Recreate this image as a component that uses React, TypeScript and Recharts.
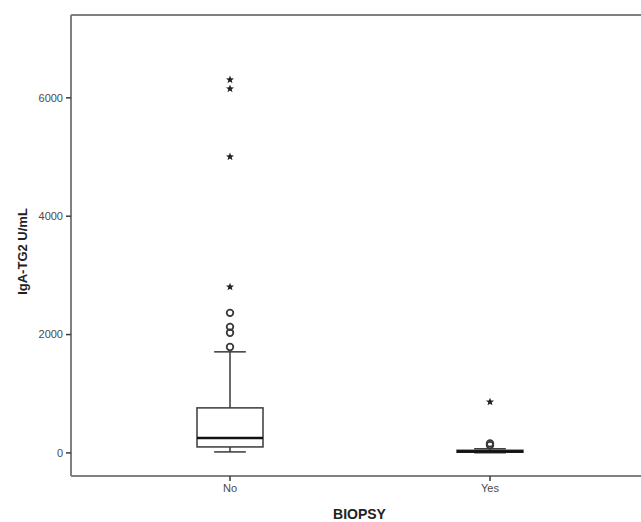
import React from 'react';
import { ComposedChart, Bar, Scatter, XAxis, YAxis, ReferenceLine } from 'recharts';

// box summary per biopsy group
const categories = ['No', 'Yes'];
const whiskerLow = [17, 3];
const quartile1 = [101, 12];
const medians = [254, 25];
const quartile3 = [761, 45];
const whiskerHigh = [1708, 70];

// outliers (circles) and extremes (stars)
const circleCats = ['No', 'No', 'No', 'No', 'Yes', 'Yes'];
const circleValues = [2367, 2130, 2030, 1790, 130, 160];
const starCats = ['No', 'No', 'No', 'No', 'Yes'];
const starValues = [6306, 6154, 5004, 2806, 862];

const yTicks = [0, 2000, 4000, 6000];
const yDomain = [-390, 7400];

const boxData = categories.map((cat, i) => ({
  cat,
  range: [whiskerLow[i], whiskerHigh[i]],
  low: whiskerLow[i],
  q1: quartile1[i],
  med: medians[i],
  q3: quartile3[i],
  high: whiskerHigh[i],
}));
const circleData = circleCats.map((cat, i) => ({ cat, v: circleValues[i] }));
const starData = starCats.map((cat, i) => ({ cat, v: starValues[i] }));

const AXIS = '#808080';
const LINE = '#3a3a3a';

const BoxShape = (props: any) => {
  const { x, y, width, height, payload } = props;
  const span = payload.high - payload.low;
  const k = span > 0 ? height / span : 0;
  const py = (v: number) => y + (payload.high - v) * k;
  const cx = x + width / 2;
  const capHalf = width * 0.24;
  return (
    <g>
      <line x1={cx} x2={cx} y1={py(payload.high)} y2={py(payload.q3)} stroke={LINE} strokeWidth={1.5} />
      <line x1={cx} x2={cx} y1={py(payload.q1)} y2={py(payload.low)} stroke={LINE} strokeWidth={1.5} />
      <line x1={cx - capHalf} x2={cx + capHalf} y1={py(payload.high)} y2={py(payload.high)} stroke={LINE} strokeWidth={1.5} />
      <line x1={cx - capHalf} x2={cx + capHalf} y1={py(payload.low)} y2={py(payload.low)} stroke={LINE} strokeWidth={1.5} />
      <rect x={x} y={py(payload.q3)} width={width} height={py(payload.q1) - py(payload.q3)} fill="#fff" stroke={LINE} strokeWidth={1.5} />
      <line x1={x} x2={x + width} y1={py(payload.med)} y2={py(payload.med)} stroke="#111" strokeWidth={2.5} />
    </g>
  );
};

const CircleShape = (props: any) => {
  const { cx, cy } = props;
  return <circle cx={cx} cy={cy} r={3.3} fill="none" stroke={LINE} strokeWidth={1.8} />;
};

const StarShape = (props: any) => {
  const { cx, cy } = props;
  const pts: string[] = [];
  for (let i = 0; i < 10; i++) {
    const r = i % 2 === 0 ? 4.2 : 1.8;
    const a = -Math.PI / 2 + (i * Math.PI) / 5;
    pts.push(`${cx + r * Math.cos(a)},${cy + r * Math.sin(a)}`);
  }
  return <polygon points={pts.join(' ')} fill="#222" />;
};

const YTitle = (props: any) => {
  const { viewBox } = props;
  const x = viewBox.x + 22;
  const y = viewBox.y + viewBox.height / 2 + 6;
  return (
    <text x={x} y={y} transform={`rotate(-90 ${x} ${y})`} textAnchor="middle" dominantBaseline="central"
      fontFamily="Liberation Sans, Arial, sans-serif" fontWeight="bold" fontSize={13} fill="#222">
      IgA-TG2 U/mL
    </text>
  );
};

const XTitle = (props: any) => {
  const { viewBox } = props;
  return (
    <text x={viewBox.x + viewBox.width / 2} y={viewBox.y + 43} textAnchor="middle"
      fontFamily="Liberation Sans, Arial, sans-serif" fontWeight="bold" fontSize={14} fill="#222">
      BIOPSY
    </text>
  );
};

export default function App() {
  const tickStyle = { fontSize: 11, fill: '#4a4a4a', fontFamily: 'Liberation Sans, Arial, sans-serif' };
  return (
    <div style={{ position: 'absolute', left: 0, top: 0, width: 641, height: 522, overflow: 'hidden', background: '#fff' }}>
      <ComposedChart width={660} height={522} data={boxData} margin={{ top: 15, right: 12, bottom: 16, left: 0 }}>
        <XAxis
          dataKey="cat"
          type="category"
          allowDuplicatedCategory={false}
          padding={{ left: 29, right: 28 }}
          height={30}
          tickSize={5}
          tickMargin={3}
          stroke={AXIS}
          strokeWidth={2}
          tick={tickStyle}
          tickLine={{ stroke: LINE, strokeWidth: 1.5 }}
          label={<XTitle />}
        />
        <YAxis
          type="number"
          domain={yDomain}
          ticks={yTicks}
          width={71}
          tickSize={5}
          tickMargin={3}
          stroke={AXIS}
          strokeWidth={2}
          tick={tickStyle}
          tickLine={{ stroke: LINE, strokeWidth: 1.5 }}
          allowDataOverflow
          label={<YTitle />}
        />
        <ReferenceLine y={yDomain[1]} stroke={AXIS} strokeWidth={2} ifOverflow="visible" />
        <Bar dataKey="range" barSize={66} shape={<BoxShape />} isAnimationActive={false} />
        <Scatter data={circleData} dataKey="v" shape={<CircleShape />} isAnimationActive={false} />
        <Scatter data={starData} dataKey="v" shape={<StarShape />} isAnimationActive={false} />
      </ComposedChart>
    </div>
  );
}
